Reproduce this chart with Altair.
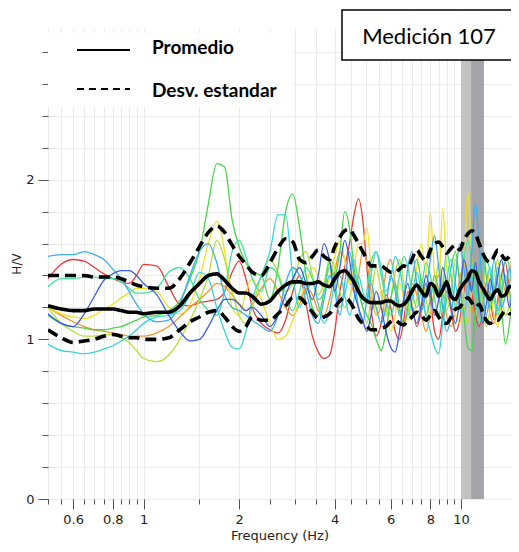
import altair as alt
import pandas as pd

# ---------------- data ----------------
FREQ = [0.5, 0.55, 0.6, 0.65, 0.7, 0.75, 0.8, 0.85, 0.9, 0.95,
        1.0, 1.1, 1.2, 1.3, 1.4, 1.5, 1.6, 1.7, 1.8, 1.9,
        2.0, 2.1, 2.2, 2.35, 2.5, 2.65, 2.8, 2.95, 3.1, 3.25,
        3.4, 3.55, 3.7, 3.85, 4.0, 4.15, 4.3, 4.45, 4.6, 4.75,
        4.9, 5.05, 5.2, 5.4, 5.6, 5.8, 6.0, 6.2, 6.4, 6.6,
        6.8, 7.0, 7.25, 7.5, 7.75, 8.0, 8.25, 8.5, 8.75, 9.0,
        9.3, 9.6, 9.9, 10.2, 10.5, 10.8, 11.1, 11.4, 11.7, 12.0,
        12.35, 12.7, 13.05, 13.4, 13.8, 14.2, 14.6, 15.0]

MEAN = [1.21, 1.19, 1.18, 1.18, 1.19, 1.19, 1.19, 1.18, 1.17, 1.17,
        1.16, 1.17, 1.17, 1.21, 1.29, 1.35, 1.40, 1.41, 1.37, 1.32,
        1.29, 1.29, 1.27, 1.22, 1.24, 1.30, 1.34, 1.36, 1.36, 1.35,
        1.35, 1.36, 1.34, 1.33, 1.38, 1.42, 1.43, 1.40, 1.36, 1.30,
        1.26, 1.24, 1.23, 1.23, 1.23, 1.24, 1.24, 1.22, 1.21, 1.22,
        1.25, 1.30, 1.34, 1.30, 1.27, 1.35, 1.33, 1.27, 1.31, 1.36,
        1.27, 1.25, 1.31, 1.35, 1.38, 1.43, 1.42, 1.36, 1.32, 1.28,
        1.25, 1.29, 1.31, 1.27, 1.28, 1.33, 1.33, 1.32]

STD_HI = [1.40, 1.40, 1.40, 1.40, 1.39, 1.39, 1.39, 1.38, 1.36, 1.34,
          1.33, 1.32, 1.32, 1.38, 1.48, 1.58, 1.67, 1.71, 1.67, 1.59,
          1.52, 1.47, 1.42, 1.40, 1.48, 1.57, 1.63, 1.61, 1.50, 1.48,
          1.52, 1.56, 1.52, 1.50, 1.58, 1.64, 1.68, 1.69, 1.65, 1.60,
          1.55, 1.50, 1.46, 1.46, 1.46, 1.44, 1.42, 1.42, 1.44, 1.46,
          1.45, 1.50, 1.56, 1.52, 1.49, 1.56, 1.60, 1.61, 1.58, 1.54,
          1.57, 1.59, 1.56, 1.62, 1.66, 1.68, 1.66, 1.60, 1.54, 1.50,
          1.48, 1.52, 1.56, 1.53, 1.50, 1.52, 1.55, 1.56]

STD_LO = [1.06, 1.01, 0.98, 0.99, 1.00, 1.02, 1.03, 1.02, 1.01, 1.01,
          1.00, 1.00, 1.01, 1.06, 1.11, 1.14, 1.17, 1.18, 1.14, 1.08,
          1.05, 1.08, 1.14, 1.12, 1.12, 1.16, 1.21, 1.26, 1.26, 1.22,
          1.17, 1.13, 1.14, 1.16, 1.20, 1.24, 1.26, 1.24, 1.19, 1.13,
          1.10, 1.08, 1.06, 1.06, 1.07, 1.08, 1.11, 1.12, 1.10, 1.09,
          1.12, 1.14, 1.17, 1.15, 1.12, 1.15, 1.18, 1.14, 1.11, 1.10,
          1.14, 1.19, 1.20, 1.24, 1.26, 1.23, 1.20, 1.22, 1.17, 1.12,
          1.10, 1.12, 1.12, 1.15, 1.18, 1.16, 1.16, 1.20]

RED = [1.38, 1.47, 1.50, 1.49, 1.45, 1.41, 1.38, 1.36, 1.35, 1.40,
       1.47, 1.46, 1.33, 1.22, 1.21, 1.23, 1.24, 1.25, 1.30, 1.42,
       1.49, 1.38, 1.20, 1.10, 1.06, 1.04, 1.12, 1.30, 1.40, 1.22,
       1.02, 0.92, 0.88, 0.90, 1.05, 1.30, 1.45, 1.60, 1.78, 1.88,
       1.75, 1.45, 1.20, 1.02, 1.10, 1.28, 1.20, 1.05, 1.00, 1.12,
       1.30, 1.22, 1.08, 1.18, 1.35, 1.25, 1.05, 1.00, 1.15, 1.30,
       1.18, 1.05, 1.12, 1.30, 1.42, 1.30, 1.15, 1.08, 1.20, 1.35,
       1.25, 1.12, 1.25, 1.40, 1.48, 1.30, 1.15, 1.22]

ORANGE = [1.20, 1.15, 1.11, 1.08, 1.06, 1.05, 1.04, 1.03, 1.02, 1.02,
          1.02, 1.04, 1.08, 1.14, 1.20, 1.25, 1.30, 1.35, 1.33, 1.28,
          1.22, 1.18, 1.22, 1.32, 1.38, 1.30, 1.20, 1.15, 1.22, 1.32,
          1.28, 1.18, 1.15, 1.25, 1.42, 1.55, 1.50, 1.38, 1.30, 1.40,
          1.55, 1.48, 1.30, 1.15, 1.22, 1.42, 1.50, 1.35, 1.18, 1.10,
          1.22, 1.35, 1.28, 1.15, 1.05, 1.15, 1.32, 1.40, 1.30, 1.15,
          1.08, 1.20, 1.38, 1.45, 1.32, 1.20, 1.15, 1.28, 1.40, 1.30,
          1.15, 1.10, 1.22, 1.38, 1.30, 1.35, 1.62, 1.45]

YELLOW = [1.20, 1.16, 1.14, 1.13, 1.15, 1.19, 1.22, 1.26, 1.29, 1.32,
          1.32, 1.30, 1.20, 1.16, 1.22, 1.38, 1.60, 1.74, 1.55, 1.20,
          1.15, 1.30, 1.38, 1.25, 1.10, 1.00, 1.02, 1.12, 1.25, 1.35,
          1.45, 1.40, 1.30, 1.38, 1.52, 1.62, 1.50, 1.35, 1.45, 1.60,
          1.60, 1.70, 1.45, 1.15, 1.30, 1.20, 1.05, 1.15, 1.35, 1.25,
          1.12, 1.20, 1.45, 1.60, 1.40, 1.79, 1.40, 1.30, 1.82, 1.45,
          1.22, 1.15, 1.10, 1.35, 1.93, 1.50, 1.25, 1.10, 1.30, 1.45,
          1.30, 1.15, 1.08, 1.25, 1.40, 1.25, 1.07, 1.20]

CHARTREUSE = [1.20, 1.10, 1.05, 1.02, 1.02, 1.03, 1.03, 1.01, 0.98, 0.93,
              0.88, 0.86, 0.90, 1.00, 1.12, 1.25, 1.40, 1.62, 1.50, 1.30,
              1.15, 1.10, 1.20, 1.40, 1.50, 1.42, 1.30, 1.35, 1.50, 1.55,
              1.40, 1.28, 1.35, 1.50, 1.45, 1.30, 1.20, 1.25, 1.40, 1.35,
              1.20, 1.10, 1.25, 1.45, 1.30, 1.15, 1.25, 1.42, 1.50, 1.35,
              1.20, 1.12, 1.25, 1.38, 1.25, 1.15, 1.30, 1.48, 1.35, 1.18,
              1.30, 1.50, 1.38, 1.20, 1.10, 1.28, 1.45, 1.35, 1.18, 1.08,
              1.20, 1.40, 1.50, 1.30, 1.15, 1.22, 1.38, 1.30]

GREEN = [1.15, 1.10, 1.08, 1.07, 1.06, 1.06, 1.07, 1.08, 1.10, 1.12,
         1.14, 1.15, 1.18, 1.24, 1.38, 1.55, 1.85, 2.10, 2.08, 1.75,
         1.58, 1.48, 1.42, 1.40, 1.25, 1.45, 1.80, 1.91, 1.70, 1.40,
         1.20, 1.15, 1.30, 1.48, 1.40, 1.55, 1.80, 1.70, 1.45, 1.30,
         1.20, 1.15, 1.10, 1.00, 0.93, 1.05, 1.25, 1.35, 1.20, 1.08,
         1.20, 1.38, 1.50, 1.35, 1.15, 1.25, 1.40, 1.30, 1.12, 1.25,
         1.45, 1.55, 1.35, 1.15, 0.95, 0.93, 1.20, 1.45, 1.55, 1.40,
         1.20, 1.30, 1.45, 1.20, 0.97, 1.10, 1.35, 1.50]

MINT = [1.33, 1.38, 1.38, 1.39, 1.39, 1.38, 1.38, 1.36, 1.32, 1.29,
        1.29, 1.32, 1.42, 1.45, 1.38, 1.25, 1.18, 1.15, 1.30, 1.55,
        1.62, 1.52, 1.38, 1.30, 1.45, 1.40, 1.25, 1.18, 1.30, 1.45,
        1.38, 1.25, 1.30, 1.45, 1.35, 1.20, 1.28, 1.42, 1.50, 1.35,
        1.22, 1.30, 1.48, 1.55, 1.40, 1.25, 1.15, 1.25, 1.40, 1.52,
        1.45, 1.30, 1.20, 1.32, 1.48, 1.40, 1.25, 1.15, 1.30, 1.55,
        1.40, 1.20, 1.30, 1.50, 1.62, 1.48, 1.30, 1.22, 1.35, 1.50,
        1.42, 1.25, 1.15, 1.30, 1.52, 1.45, 1.28, 1.38]

CYAN = [0.97, 0.93, 0.92, 0.91, 0.92, 0.94, 0.96, 0.99, 1.02, 1.06,
        1.10, 1.14, 1.15, 1.18, 1.28, 1.42, 1.38, 1.20, 1.05, 0.95,
        0.94, 1.05, 1.25, 1.40, 1.55, 1.78, 1.78, 1.40, 1.20, 1.30,
        1.35, 1.22, 1.10, 1.18, 1.35, 1.40, 1.28, 1.15, 1.25, 1.40,
        1.30, 1.22, 1.40, 1.55, 1.45, 1.30, 1.38, 1.52, 1.45, 1.28,
        1.15, 1.25, 1.42, 1.30, 1.15, 1.05, 0.95, 0.91, 1.10, 1.35,
        1.50, 1.35, 1.20, 1.15, 1.30, 1.40, 1.25, 1.10, 1.20, 1.35,
        1.45, 1.30, 1.18, 1.28, 1.40, 1.30, 1.20, 1.28]

SKY = [1.52, 1.53, 1.53, 1.55, 1.53, 1.50, 1.44, 1.38, 1.30, 1.22,
       1.16, 1.11, 1.12, 1.22, 1.40, 1.55, 1.60, 1.48, 1.28, 1.20,
       1.18, 1.15, 1.12, 1.08, 1.05, 1.15, 1.35, 1.45, 1.40, 1.30,
       1.15, 1.10, 1.25, 1.40, 1.30, 1.15, 1.35, 1.55, 1.40, 1.20,
       1.10, 1.25, 1.35, 1.20, 1.10, 1.20, 1.40, 1.30, 1.15, 1.25,
       1.45, 1.55, 1.35, 1.18, 1.30, 1.50, 1.65, 1.45, 1.20, 1.05,
       1.15, 1.38, 1.60, 1.45, 1.25, 1.55, 1.85, 1.60, 1.30, 1.15,
       1.30, 1.50, 1.35, 1.20, 1.28, 1.45, 1.35, 1.25]

BLUE = [1.16, 1.10, 1.08, 1.16, 1.27, 1.37, 1.41, 1.43, 1.43, 1.40,
        1.35, 1.28, 1.15, 1.05, 0.99, 1.00, 1.08, 1.18, 1.25, 1.25,
        1.22, 1.18, 1.20, 1.15, 1.08, 1.15, 1.28, 1.38, 1.45, 1.35,
        1.25, 1.40, 1.60, 1.50, 1.30, 1.45, 1.62, 1.50, 1.30, 1.20,
        1.12, 1.05, 1.15, 1.30, 1.20, 1.05, 0.95, 0.92, 1.05, 1.25,
        1.35, 1.20, 1.10, 1.22, 1.40, 1.30, 1.15, 1.25, 1.45, 1.35,
        1.20, 1.10, 1.25, 1.50, 1.40, 1.30, 1.48, 1.25, 1.10, 1.22,
        1.38, 1.28, 1.40, 1.50, 1.35, 1.20, 1.32, 1.40]

CURVE_NAMES = ["rojo", "naranja", "amarillo", "verde amarillo", "verde",
               "menta", "turquesa", "celeste", "azul"]
CURVE_COLORS = ["#ec3a3a", "#f5922e", "#f0e028", "#b4e03a", "#48d448",
                "#44e09e", "#36d6d6", "#3aaef0", "#3b5ee0"]
CURVE_VALUES = [RED, ORANGE, YELLOW, CHARTREUSE, GREEN, MINT, CYAN, SKY, BLUE]

X_TICKS = [0.5, 0.55, 0.6, 0.65, 0.7, 0.75, 0.8, 0.85, 0.9, 0.95, 1.0,
           1.5, 2.0, 2.5, 3.0, 3.5, 4.0, 4.5, 5.0, 5.5, 6.0, 6.5, 7.0,
           7.5, 8.0, 8.5, 9.0, 9.5, 10.0]
X_LABELS = [0.6, 0.8, 1, 2, 4, 6, 8, 10]
Y_TICKS = [0, 0.2, 0.4, 0.6, 0.8, 1.0, 1.2, 1.4, 1.6, 1.8, 2.0, 2.2, 2.4, 2.6, 2.8]
Y_LABELS = [0, 1, 2]
X_DOMAIN = [0.5, 14.36]
Y_DOMAIN = [0, 2.95]

BAND_EDGES = [10.0, 10.75, 11.8]
BAND_COLORS = ["#c2c2c2", "#a3a3a8"]

LEGEND_TEXT = ["Promedio", "Desv. estandar"]
STATION_TEXT = "Medición 107"

# ---------------- tables ----------------
rows = []
for name, vals in zip(CURVE_NAMES, CURVE_VALUES):
    for f, v in zip(FREQ, vals):
        rows.append({"freq": f, "hv": v, "curve": name})
curves_df = pd.DataFrame(rows)

std_df = pd.DataFrame({
    "freq": FREQ + FREQ,
    "hv": STD_HI + STD_LO,
    "side": ["hi"] * len(FREQ) + ["lo"] * len(FREQ),
})
mean_df = pd.DataFrame({"freq": FREQ, "hv": MEAN})
band_df = pd.DataFrame({"f0": BAND_EDGES[:-1], "f1": BAND_EDGES[1:], "c": BAND_COLORS})
one = pd.DataFrame({"k": [0]})

W, H = 463, 471
xs = alt.Scale(type="log", domain=X_DOMAIN, nice=False)
ys = alt.Scale(domain=Y_DOMAIN, nice=False)

FONT = "DejaVu Sans"
GRID = "#ebebeb"
TICK = "#555555"

x_minor = alt.Axis(orient="bottom", values=X_TICKS, labels=False, tickSize=5,
                   tickColor=TICK, grid=True, gridColor=GRID, domain=False, title=None)
x_major = alt.Axis(orient="bottom", values=X_LABELS, format="~g", tickSize=10,
                   tickColor=TICK, grid=False, domain=False, labelFont=FONT,
                   labelFontSize=13, labelColor="#222222", labelPadding=4,
                   title="Frequency (Hz)", titleFont=FONT, titleFontSize=13,
                   titleFontWeight="normal", titleColor="#222222",
                   titleY=40, titleBaseline="alphabetic")
y_minor = alt.Axis(orient="left", values=Y_TICKS, labels=False, tickSize=6,
                   tickColor=TICK, grid=True, gridColor=GRID, domain=False, title=None)
y_major = alt.Axis(orient="left", values=Y_LABELS, tickSize=10, tickColor=TICK,
                   grid=False, domain=False, labelFont=FONT, labelFontSize=13,
                   labelColor="#222222", labelPadding=4, title="H/V",
                   titleFont=FONT, titleFontSize=12, titleFontWeight="normal",
                   titleColor="#222222", titlePadding=2)

band = alt.Chart(band_df).mark_rect().encode(
    x=alt.X("f0:Q", scale=xs, axis=x_minor),
    x2="f1:Q",
    color=alt.Color("c:N", scale=None),
)

curves = alt.Chart(curves_df).mark_line(strokeWidth=1.3, interpolate="monotone",
                                        clip=True).encode(
    x=alt.X("freq:Q", scale=xs, axis=x_major),
    y=alt.Y("hv:Q", scale=ys, axis=y_major),
    color=alt.Color("curve:N", scale=alt.Scale(domain=CURVE_NAMES, range=CURVE_COLORS),
                    legend=None),
    detail="curve:N",
)

std = alt.Chart(std_df).mark_line(color="black", strokeWidth=3.6, strokeDash=[11, 6],
                                  interpolate="monotone", clip=True).encode(
    x=alt.X("freq:Q", scale=xs, axis=None),
    y=alt.Y("hv:Q", scale=ys, axis=y_minor),
    detail="side:N",
)

mean = alt.Chart(mean_df).mark_line(color="black", strokeWidth=3.6,
                                    interpolate="monotone", clip=True).encode(
    x=alt.X("freq:Q", scale=xs, axis=None),
    y=alt.Y("hv:Q", scale=ys, axis=None),
)

# legend block (top-left)
leg_box = alt.Chart(one).mark_rect(fill="white", stroke=None).encode(
    x=alt.value(0), x2=alt.value(245), y=alt.value(5), y2=alt.value(79))
leg_solid = alt.Chart(one).mark_rule(color="black", strokeWidth=2.2).encode(
    x=alt.value(29), x2=alt.value(82), y=alt.value(22))
leg_dash = alt.Chart(one).mark_rule(color="black", strokeWidth=2.2,
                                    strokeDash=[7, 5]).encode(
    x=alt.value(29), x2=alt.value(82), y=alt.value(61))
leg_t1 = alt.Chart(one).mark_text(align="left", baseline="middle", font="Lato",
                                  fontWeight="bold", fontSize=19, color="black",
                                  text=LEGEND_TEXT[0]).encode(
    x=alt.value(104), y=alt.value(20))
leg_t2 = alt.Chart(one).mark_text(align="left", baseline="middle", font="Lato",
                                  fontWeight="bold", fontSize=19, color="black",
                                  text=LEGEND_TEXT[1]).encode(
    x=alt.value(104), y=alt.value(63))

# station label box (top-right)
st_box = alt.Chart(one).mark_rect(fill="white", stroke="black", strokeWidth=1.5).encode(
    x=alt.value(294), x2=alt.value(485), y=alt.value(-18), y2=alt.value(32))
st_text = alt.Chart(one).mark_text(align="center", baseline="middle", font="Lato",
                                   fontSize=22, color="black", text=STATION_TEXT).encode(
    x=alt.value(381), y=alt.value(9))

chart = alt.layer(
    band, curves, std, mean, leg_box, leg_solid, leg_dash, leg_t1, leg_t2, st_box, st_text
).resolve_axis(
    x="independent", y="independent"
).properties(
    width=W, height=H,
    padding={"left": 40, "top": 20, "right": 0, "bottom": 44},
    autosize=alt.AutoSizeParams(type="none"),
    background="white",
).configure_view(stroke=None)

chart.save("out.html", embed_options={"renderer": "svg", "actions": False})
